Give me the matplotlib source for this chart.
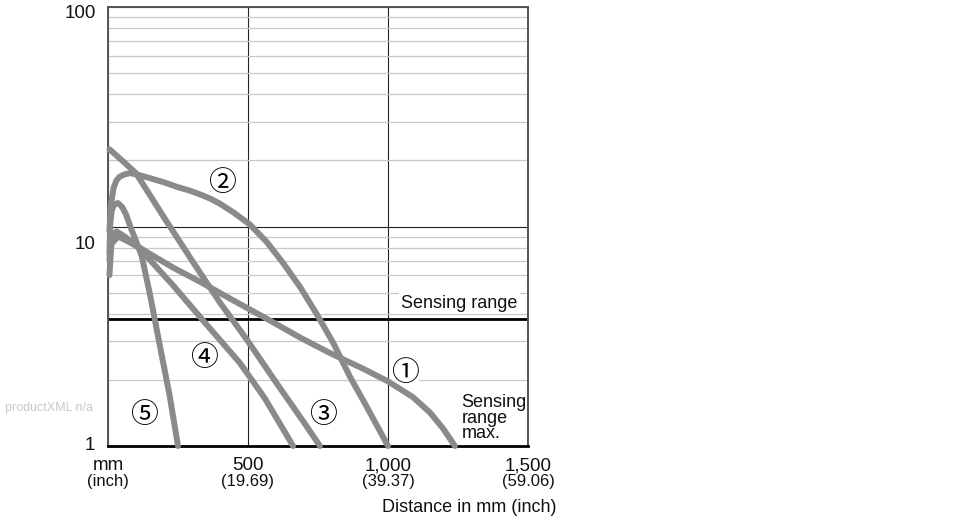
import matplotlib
matplotlib.use('Agg')
import matplotlib.pyplot as plt
import matplotlib.transforms as mtransforms
from matplotlib.ticker import LogLocator, NullFormatter

plt.rcParams['font.family'] = ['Liberation Sans', 'DejaVu Sans']

# curves: distance in mm, value (log scale)
curve1_x = [5, 12, 35, 60, 114, 150, 232, 329, 448, 567, 686, 793, 911, 1000, 1089, 1150, 1197, 1239]
curve1_y = [6.0, 8.3, 9.0, 8.7, 8.0, 7.5, 6.5, 5.6, 4.6, 3.8, 3.12, 2.65, 2.25, 1.97, 1.67, 1.42, 1.2, 1.0]
curve2_x = [5, 10, 20, 30, 40, 60, 80, 115, 150, 200, 250, 290, 329, 365, 400, 448, 507, 567, 626, 686, 745,
            805, 864, 924, 1000]
curve2_y = [9.5, 12.5, 15.0, 16.2, 16.8, 17.3, 17.5, 17.1, 16.6, 15.9, 15.1, 14.6, 14.0, 13.4, 12.7, 11.6, 10.2,
            8.5, 6.8, 5.3, 4.0, 2.94, 2.07, 1.51, 1.0]
curve3_x = [5, 50, 100, 200, 300, 400, 500, 600, 700, 757]
curve3_y = [22.5, 20.0, 17.5, 11.0, 7.0, 4.5, 3.0, 1.95, 1.28, 1.0]
curve4_x = [5, 12, 30, 60, 114, 232, 350, 471, 560, 661]
curve4_y = [7.0, 8.8, 9.5, 9.0, 7.9, 5.4, 3.6, 2.39, 1.65, 1.0]
curve5_x = [5, 8, 13, 22, 35, 50, 65, 82, 100, 121, 135, 150, 186, 220, 250]
curve5_y = [7.5, 10.2, 11.8, 12.6, 12.8, 12.3, 11.3, 9.8, 8.6, 7.3, 6.0, 4.9, 2.83, 1.7, 1.0]

curve_labels = ['①', '②', '③', '④', '⑤']
label_x = [1061, 407, 768, 343, 129]
label_y = [2.15, 15.8, 1.38, 2.52, 1.38]

sensing_range = 3.8
x_ticks = [0, 500, 1000, 1500]
x_tick_labels = ['mm', '500', '1,000', '1,500']
x_inch_labels = ['(inch)', '(19.69)', '(39.37)', '(59.06)']
y_ticks = [1, 10, 100]
y_tick_labels = ['1', '10', '100']

fig = plt.figure(figsize=(9.7, 5.2), dpi=100)
ax = fig.add_axes([108 / 970, 74 / 520, 420 / 970, 439 / 520])
ax.set_yscale('log')
ax.set_xlim(0, 1500)
ax.set_ylim(1, 100)

# grid
ax.yaxis.set_minor_locator(LogLocator(base=10, subs=range(2, 10)))
ax.yaxis.set_minor_formatter(NullFormatter())
ax.grid(which='minor', axis='y', color='#c8c8c8', lw=0.9, zorder=0)
ax.grid(which='major', axis='both', color='#222222', lw=0.8, zorder=0)
ax.set_axisbelow(True)

ax.axhline(sensing_range, color='black', lw=2.0, zorder=2)

curves = [(curve1_x, curve1_y), (curve2_x, curve2_y), (curve3_x, curve3_y),
          (curve4_x, curve4_y), (curve5_x, curve5_y)]
for cx, cy in curves:
    ax.plot(cx, cy, color='#8a8a8a', lw=4.3, solid_capstyle='round',
            solid_joinstyle='round', zorder=4, clip_on=False)

# curve numbers sit under the curves so their white box never hides a line
for lab, lx, ly in zip(curve_labels, label_x, label_y):
    ax.text(lx, ly, lab, ha='center', va='center', fontsize=20, color='black',
            family=['Noto Sans CJK JP', 'DejaVu Sans'], zorder=3,
            bbox=dict(facecolor='white', edgecolor='none', pad=0.3))

ax.text(1255, 4.48, 'Sensing range', ha='center', va='center', fontsize=13,
        color='#111111', zorder=5,
        bbox=dict(facecolor='white', edgecolor='none', pad=1.5))
ax.text(1263, 1.34, 'Sensing\nrange\nmax.', ha='left', va='center', fontsize=13,
        color='#111111', linespacing=0.9, zorder=5)

# ticks
ax.set_xticks(x_ticks)
ax.set_xticklabels(x_tick_labels, fontsize=13.5, color='#111111')
ax.set_yticks(y_ticks)
ax.set_yticklabels(y_tick_labels, fontsize=13.5, color='#111111')
ax.tick_params(which='both', length=0)
ax.tick_params(axis='x', pad=8)
ax.tick_params(axis='y', pad=9)

y_offsets = [0.03, -0.16, -0.04]
for lbl, dy in zip(ax.get_yticklabels(), y_offsets):
    lbl.set_transform(lbl.get_transform() + mtransforms.ScaledTranslation(0, dy, fig.dpi_scale_trans))

blend = mtransforms.blended_transform_factory(ax.transData, ax.transAxes)
for tx, lab in zip(x_ticks, x_inch_labels):
    ax.text(tx, -0.08, lab, transform=blend, ha='center', va='center',
            fontsize=12, color='#111111')

for side in ['left', 'top', 'right']:
    ax.spines[side].set_color('#555555')
    ax.spines[side].set_linewidth(1.4)
ax.spines['bottom'].set_color('black')
ax.spines['bottom'].set_linewidth(2.0)

fig.text(557 / 970, 1 - 507 / 520, 'Distance in mm (inch)', ha='right', va='center',
         fontsize=13, color='#111111')
fig.text(5 / 970, 1 - 408 / 520, 'productXML n/a', ha='left', va='center',
         fontsize=9, color='#c8c8c8')

fig.savefig('out.png', dpi=100, facecolor='white')
